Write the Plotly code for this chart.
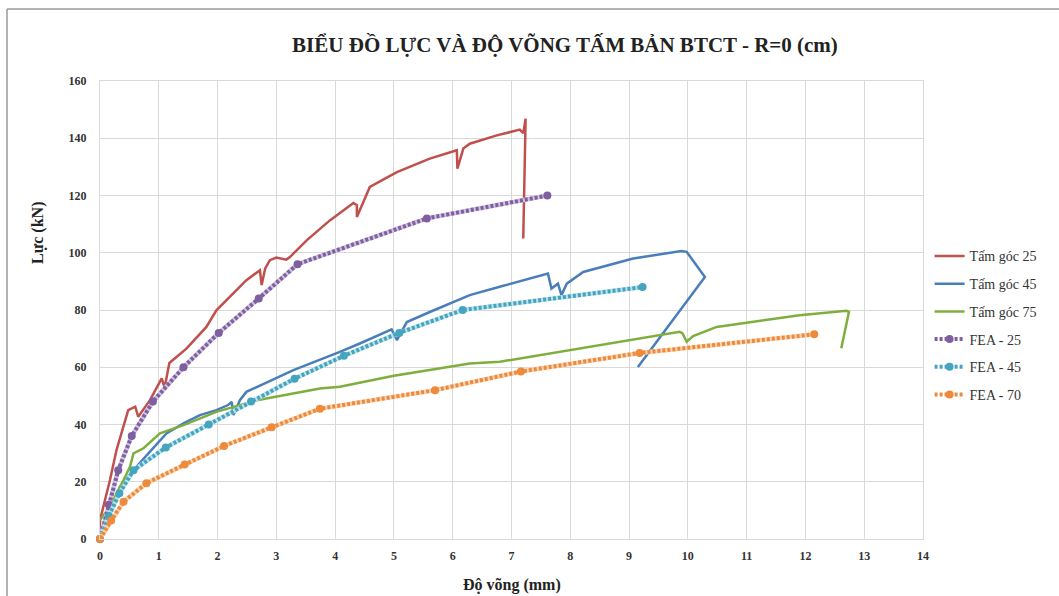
import plotly.graph_objects as go

# ---------------- data ----------------
tam25_x = [0, 0, 0.085, 0.17, 0.28, 0.43, 0.48, 0.6, 0.65, 0.85, 1.05, 1.1, 1.18, 1.47, 1.81, 1.98,
           2.15, 2.49, 2.72, 2.75, 2.81, 2.89, 3.0, 3.09, 3.17, 3.23, 3.52, 3.91, 4.31, 4.37, 4.37,
           4.59, 5.05, 5.61, 6.07, 6.08, 6.18, 6.29, 6.75, 7.14, 7.2, 7.24, 7.2]
tam25_y = [2, 6.6, 13.6, 20.6, 31, 41.5, 45, 46.2, 42.7, 48.5, 56.1, 52.9, 61.5, 66.5, 74.1, 79.9,
           83.4, 90.4, 93.9, 88.7, 94.5, 97.4, 98.3, 98, 97.6, 98.5, 104.4, 111.3, 117.4, 116.6, 112.5,
           123, 128.2, 132.9, 135.8, 129.4, 136.4, 138.1, 141, 143, 141.8, 146.8, 105]

tam45_x = [0, 0.17, 0.34, 0.57, 0.85, 1.13, 1.42, 1.7, 1.98, 2.18, 2.24, 2.27, 2.38, 2.49, 3.29,
           3.74, 4.08, 4.42, 4.96, 5.05, 5.22, 5.61, 6.29, 6.8, 7.62, 7.68, 7.79, 7.85, 7.94, 8.22,
           9.07, 9.89, 9.98, 10.29, 9.15]
tam45_y = [2, 9, 18.3, 24.1, 30.5, 36.9, 40.4, 43.3, 45, 46.8, 47.9, 43.3, 48.5, 51.4, 59,
           62.5, 65.4, 68.3, 73.2, 69.5, 75.8, 79.3, 85.2, 88.1, 92.7, 87.5, 89.2, 85.2, 89.2, 93.3,
           98, 100.6, 100.3, 91.5, 60.1]

tam75_x = [0, 0.17, 0.4, 0.51, 0.57, 0.74, 1.02, 1.42, 1.98, 2.67, 3.74, 4.08, 5.0, 6.29, 6.8,
           9.47, 9.86, 9.91, 9.98, 10.09, 10.49, 11.9, 12.7, 12.74, 12.61]
tam75_y = [6.6, 11.3, 20.6, 25.2, 29.9, 31.7, 36.9, 39.8, 44.4, 48.5, 52.6, 53.2, 57, 61.3, 61.9,
           70.9, 72.4, 71.8, 68.9, 70.9, 74.1, 78.2, 79.7, 79.3, 66.6]

fea25_x = [0, 0.15, 0.31, 0.54, 0.9, 1.42, 2.02, 2.7, 3.36, 5.56, 7.61]
fea25_y = [0, 12, 24, 36, 48, 60, 72, 84, 96, 112, 120]

fea45_x = [0, 0.15, 0.33, 0.57, 1.12, 1.85, 2.57, 3.31, 4.15, 5.09, 6.17, 9.23]
fea45_y = [0, 8, 16, 24, 32, 40, 48, 56, 64, 72, 80, 88]

fea70_x = [0, 0.19, 0.4, 0.79, 1.44, 2.11, 2.92, 3.74, 5.7, 7.16, 9.18, 12.15]
fea70_y = [0, 6.5, 13, 19.5, 26, 32.5, 39, 45.5, 52, 58.5, 65, 71.5]

x_ticks = list(range(0, 15))
y_ticks = list(range(0, 161, 20))

title_text = "BIỂU ĐỒ LỰC VÀ ĐỘ VÕNG TẤM BẢN BTCT - R=0 (cm)"
x_title = "Độ võng (mm)"
y_title = "Lực (kN)"

# ---------------- styles ----------------
SERIF = "Liberation Serif, Times New Roman, serif"
C_RED, C_BLUE, C_GREEN = "#C0504D", "#4A7EBB", "#7FAE3E"
C_PUR, C_TEAL, C_ORA = "#7F5FA0", "#45A5BF", "#EE8A3C"
L_PUR, L_TEAL, L_ORA = "#CFC3E0", "#BCE2EC", "#FAD5B3"

fig = go.Figure()

for name, xs, ys, col in [("Tấm góc 25", tam25_x, tam25_y, C_RED),
                          ("Tấm góc 45", tam45_x, tam45_y, C_BLUE),
                          ("Tấm góc 75", tam75_x, tam75_y, C_GREEN)]:
    fig.add_trace(go.Scatter(x=xs, y=ys, mode="lines", name=name, legendgroup=name,
                             line=dict(color=col, width=2.5), cliponaxis=False))

for name, xs, ys, col, light in [("FEA - 25", fea25_x, fea25_y, C_PUR, L_PUR),
                                 ("FEA - 45", fea45_x, fea45_y, C_TEAL, L_TEAL),
                                 ("FEA - 70", fea70_x, fea70_y, C_ORA, L_ORA)]:
    fig.add_trace(go.Scatter(x=xs, y=ys, mode="lines", showlegend=False, legendgroup=name,
                             line=dict(color=light, width=4.5), hoverinfo="skip", cliponaxis=False))
    fig.add_trace(go.Scatter(x=xs, y=ys, mode="lines+markers", name=name, legendgroup=name,
                             line=dict(color=col, width=4, dash="3px,2px"),
                             marker=dict(color=col, size=8), cliponaxis=False))

axis_common = dict(showgrid=True, gridcolor="#D9D9D9", gridwidth=1,
                   showline=True, linecolor="#D9D9D9", linewidth=1, mirror=True,
                   zeroline=False, ticks="outside", tickcolor="rgba(0,0,0,0)",
                   tickfont=dict(family=SERIF, size=12, color="#333333", weight="bold"))

fig.update_layout(
    width=1059, height=596,
    margin=dict(l=100, r=136, t=81, b=57),
    paper_bgcolor="white", plot_bgcolor="white",
    title=dict(text=title_text, x=0.565, xref="paper", xanchor="center",
               y=(596 - 45) / 596, yanchor="middle",
               font=dict(family=SERIF, size=21, color="#222222", weight="bold")),
    xaxis=dict(range=[0, 14], tickvals=x_ticks, ticktext=[str(v) for v in x_ticks],
               ticklen=6, **axis_common),
    yaxis=dict(range=[0, 160], tickvals=y_ticks, ticktext=[str(v) for v in y_ticks],
               ticklen=10, **axis_common),
    showlegend=True,
    legend=dict(x=1.008, xanchor="left", y=0.652, yanchor="top",
                font=dict(family=SERIF, size=14, color="#333333"),
                tracegroupgap=6.5, itemwidth=30, bgcolor="rgba(0,0,0,0)"),
    annotations=[
        dict(text=x_title, xref="paper", yref="paper", x=0.5, y=(539 - 585) / 458,
             xanchor="center", yanchor="middle", showarrow=False,
             font=dict(family=SERIF, size=16, color="#222222", weight="bold")),
        dict(text=y_title, xref="paper", yref="paper", x=(38 - 100) / 823, y=(539 - 233) / 458,
             xanchor="center", yanchor="middle", showarrow=False, textangle=-90,
             font=dict(family=SERIF, size=16, color="#222222", weight="bold")),
    ],
    shapes=[
        dict(type="line", xref="paper", yref="paper", x0=(7 - 100) / 823, x1=(1059 - 100) / 823,
             y0=(539 - 9) / 458, y1=(539 - 9) / 458, line=dict(color="#9A9A9A", width=1.5)),
        dict(type="line", xref="paper", yref="paper", x0=(7 - 100) / 823, x1=(7 - 100) / 823,
             y0=(539 - 9) / 458, y1=(539 - 600) / 458, line=dict(color="#9A9A9A", width=1.5)),
    ],
)

fig.write_html("out.html")
